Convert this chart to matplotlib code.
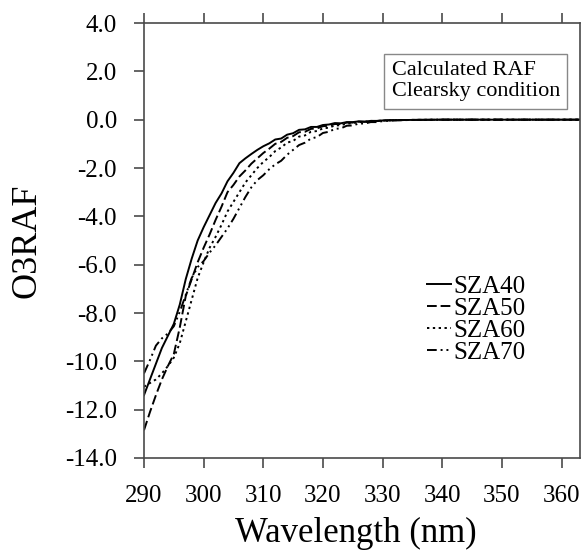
import numpy as np
import matplotlib
matplotlib.use('Agg')
import matplotlib.pyplot as plt

plt.rcParams['font.family'] = ['Liberation Serif', 'DejaVu Serif']
plt.rcParams['axes.unicode_minus'] = False

# wavelength grid (nm)
wl = [290, 291, 292, 293, 294, 295, 296, 297, 298, 299,
      300, 301, 302, 303, 304, 305, 306, 307, 308, 309,
      310, 311, 312, 313, 314, 315, 316, 317, 318, 319,
      320, 321, 322, 323, 324, 325, 326, 327, 328, 329,
      330, 332, 335, 340, 345, 350, 355, 360, 363]

sza40 = [-11.40, -10.75, -10.10, -9.45, -8.95, -8.45, -7.65, -6.60, -5.75, -5.00,
         -4.45, -3.95, -3.45, -3.05, -2.55, -2.20, -1.80, -1.60, -1.42, -1.25,
         -1.10, -0.98, -0.82, -0.78, -0.62, -0.56, -0.42, -0.40, -0.30, -0.30,
         -0.22, -0.20, -0.14, -0.15, -0.10, -0.10, -0.07, -0.08, -0.05, -0.05,
         -0.03, -0.02, -0.01, 0.0, 0.0, 0.0, 0.0, 0.0, 0.0]

sza50 = [-12.85, -12.10, -11.40, -10.75, -10.20, -9.70, -8.60, -7.30, -6.60, -5.90,
         -5.30, -4.75, -4.15, -3.60, -3.00, -2.70, -2.35, -2.10, -1.82, -1.60,
         -1.38, -1.20, -1.00, -0.92, -0.75, -0.68, -0.52, -0.50, -0.38, -0.36,
         -0.27, -0.25, -0.18, -0.18, -0.12, -0.12, -0.08, -0.09, -0.05, -0.06,
         -0.03, -0.02, -0.01, 0.0, 0.0, 0.0, 0.0, 0.0, 0.0]

sza60 = [-11.05, -10.90, -10.75, -10.50, -10.20, -9.85, -9.25, -8.35, -7.45, -6.55,
         -5.90, -5.30, -4.85, -4.35, -3.80, -3.40, -3.00, -2.60, -2.30, -2.00,
         -1.75, -1.55, -1.30, -1.15, -0.95, -0.88, -0.70, -0.65, -0.50, -0.47,
         -0.36, -0.33, -0.24, -0.23, -0.16, -0.15, -0.10, -0.10, -0.07, -0.06,
         -0.04, -0.02, -0.01, 0.0, 0.0, 0.0, 0.0, 0.0, 0.0]

sza70 = [-10.50, -9.95, -9.35, -9.05, -8.85, -8.55, -7.95, -7.25, -6.55, -6.10,
         -5.85, -5.50, -5.20, -4.85, -4.50, -4.10, -3.65, -3.20, -2.80, -2.50,
         -2.30, -2.05, -1.85, -1.70, -1.45, -1.25, -1.05, -0.95, -0.78, -0.72,
         -0.55, -0.50, -0.38, -0.36, -0.25, -0.24, -0.16, -0.16, -0.10, -0.10,
         -0.06, -0.03, -0.01, 0.0, 0.0, 0.0, 0.0, 0.0, 0.0]

labels = ['SZA40', 'SZA50', 'SZA60', 'SZA70']
styles = ['-', (0, (5, 2)), (0, (1.2, 1.8)), (0, (5, 2, 1, 2, 1, 2))]

xticks = [290, 300, 310, 320, 330, 340, 350, 360]
yticks = [4.0, 2.0, 0.0, -2.0, -4.0, -6.0, -8.0, -10.0, -12.0, -14.0]

fig = plt.figure(figsize=(5.82, 5.52), dpi=100)
ax = fig.add_axes([0.2474, 0.1703, 0.7492, 0.788])

for y, lab, ls in zip([sza40, sza50, sza60, sza70], labels, styles):
    ax.plot(wl, y, color='black', linestyle=ls, linewidth=1.4, label=lab)

ax.set_xlim(290, 363.1)
ax.set_ylim(-14.0, 4.0)
ax.set_xticks(xticks)
ax.set_yticks(yticks)
ax.set_yticklabels(['%.1f' % v for v in yticks])

for s in ax.spines.values():
    s.set_color('#4a4a4a')
    s.set_linewidth(1.2)
ax.tick_params(axis='both', direction='out', length=7.5, width=1.2,
               color='#4a4a4a', labelsize=18, pad=12)
ax.tick_params(axis='x', top=True)

ax.set_xlabel('Wavelength (nm)', fontsize=25)
ax.xaxis.set_label_coords(0.485, -0.135)
ax.xaxis.label.set_va('top')
ax.set_ylabel('O3RAF', fontsize=26)
ax.yaxis.set_label_coords(-0.268, 0.5)
ax.yaxis.label.set_va('center')

ax.text(0.568, 0.866, 'Calculated RAF\nClearsky condition', transform=ax.transAxes,
        fontsize=16, va='center', ha='left', linespacing=1.15,
        bbox=dict(boxstyle='square,pad=0.33', facecolor='white',
                  edgecolor='#888888', linewidth=1.0))

ax.legend(loc='upper left', bbox_to_anchor=(0.649, 0.42), frameon=False,
          fontsize=18, handlelength=0.95, handletextpad=0.1,
          labelspacing=-0.02, borderpad=0, borderaxespad=0)

fig.savefig('out.png', dpi=100)
